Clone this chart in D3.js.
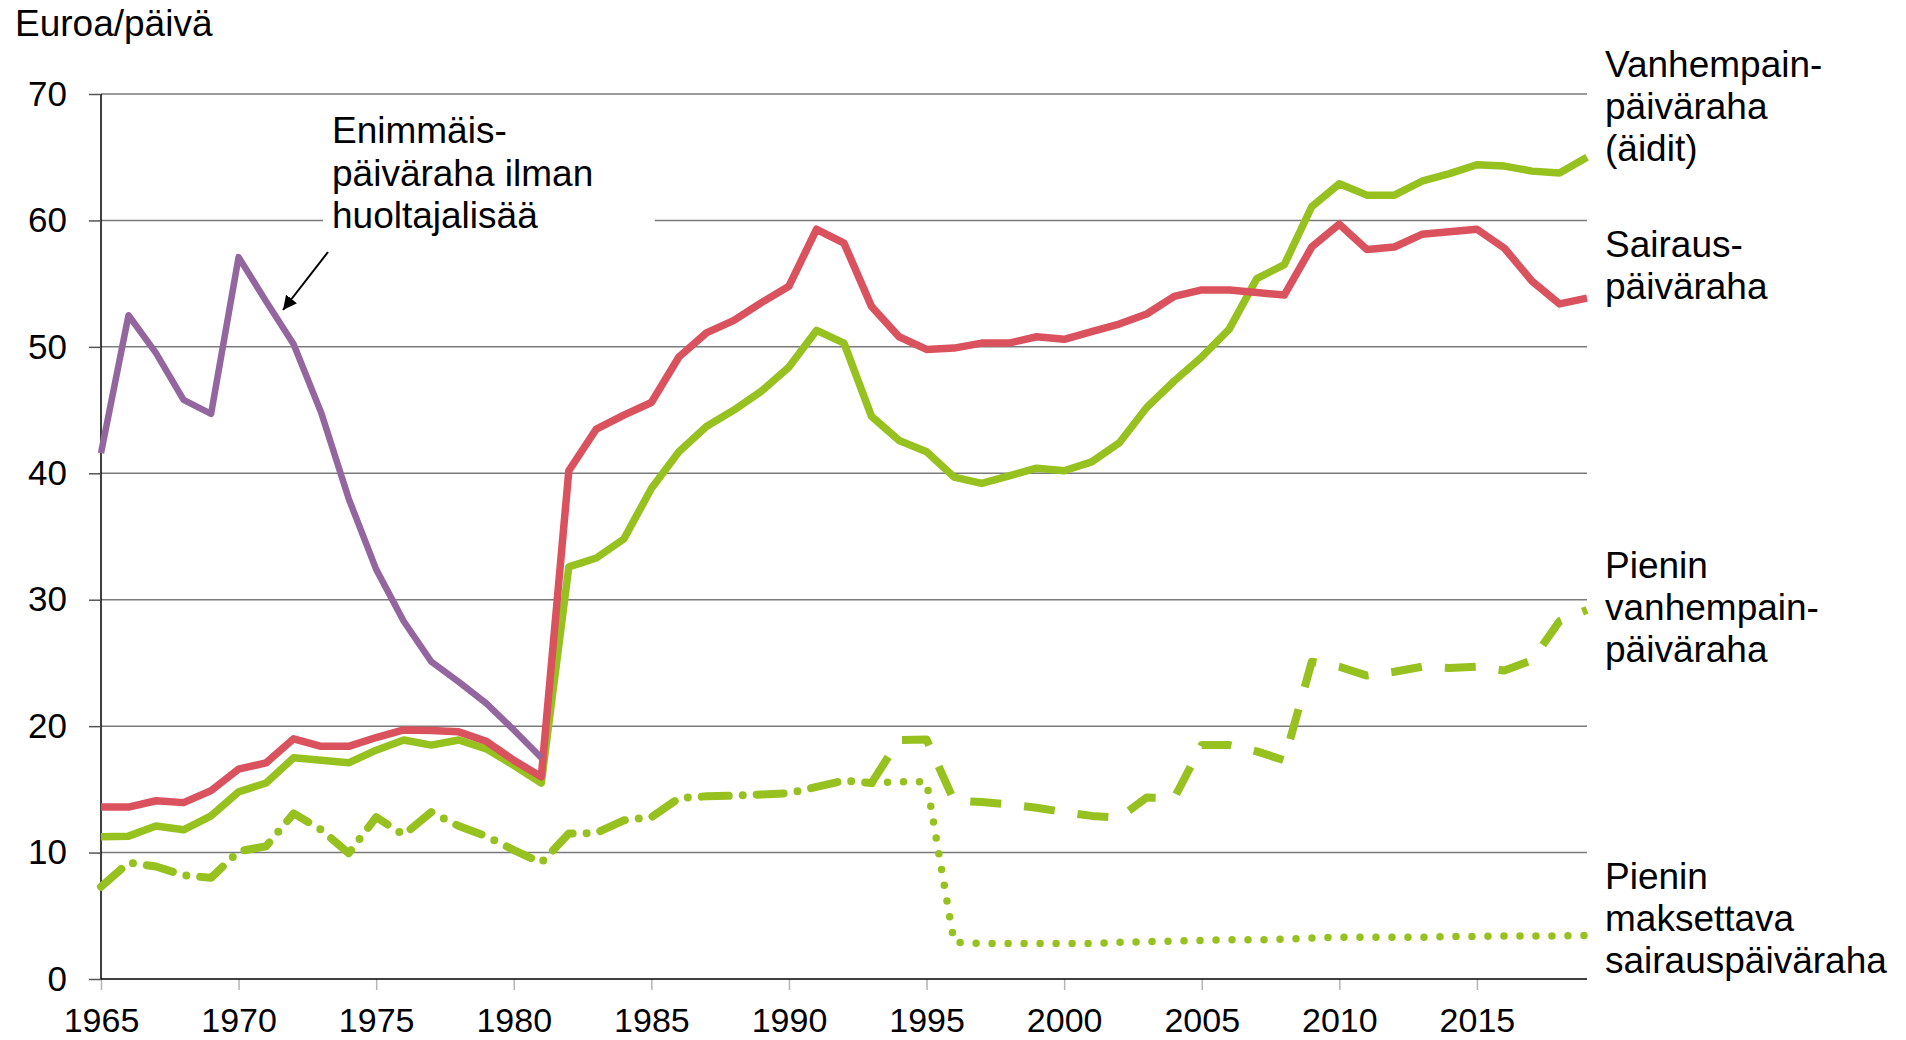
<!DOCTYPE html>
<html lang="fi">
<head>
<meta charset="UTF-8">
<title>Päivärahat 1965–2019</title>
<script src="https://d3js.org/d3.v7.min.js"></script>
<style>
    body { margin: 0; background: #fff; }
    svg text { font-family: 'Liberation Sans', Arial, sans-serif; fill: #000; }
</style>
</head>
<body>
<svg></svg>
<script>
    // vuodet
    const years = d3.range(1965, 2020);
    const yTicks = [0, 10, 20, 30, 40, 50, 60, 70];
    const xTicks = [1965, 1970, 1975, 1980, 1985, 1990, 1995, 2000, 2005, 2010, 2015];

    // Enimmäispäiväraha ilman huoltajalisää, 1965-1981
    const enimmais = [41.6, 52.5, 49.5, 45.8, 44.7, 57.1, 53.6, 50.2, 44.8, 38.0,
        32.4, 28.3, 25.1, 23.5, 21.8, 19.7, 17.5];

    // Sairauspäiväraha, 1965-2019
    const sairaus = [13.6, 13.6, 14.1, 13.95, 14.9, 16.6, 17.1, 19.0, 18.4, 18.4,
        19.1, 19.7, 19.65, 19.55, 18.8, 17.3, 16.0, 40.2, 43.5, 44.6,
        45.6, 49.2, 51.1, 52.1, 53.5, 54.8, 59.3, 58.2, 53.2, 50.8,
        49.8, 49.9, 50.3, 50.3, 50.8, 50.6, 51.2, 51.8, 52.6, 54.0,
        54.5, 54.5, 54.3, 54.1, 57.9, 59.7, 57.7, 57.9, 58.9, 59.1,
        59.3, 57.8, 55.2, 53.4, 53.85];

    // Vanhempainpäiväraha (äidit), 1965-2019
    const vanhempain = [11.25, 11.3, 12.1, 11.8, 12.9, 14.8, 15.5, 17.5, 17.3, 17.1,
        18.1, 18.9, 18.5, 18.9, 18.2, 16.9, 15.5, 32.6, 33.3, 34.8,
        38.8, 41.7, 43.7, 45.0, 46.5, 48.4, 51.3, 50.3, 44.5, 42.6,
        41.7, 39.7, 39.2, 39.8, 40.4, 40.2, 40.9, 42.4, 45.2, 47.3,
        49.2, 51.4, 55.4, 56.5, 61.1, 62.9, 62.0, 62.0, 63.1, 63.7,
        64.4, 64.3, 63.9, 63.75, 65.0];

    // Pienin päiväraha (yhteinen), 1965-1993
    const pieninYhteinen = [7.3, 9.2, 8.9, 8.2, 8.0, 10.1, 10.5, 13.1, 11.8, 9.95,
        12.8, 11.4, 13.2, 12.1, 11.3, 10.2, 9.2, 11.5, 11.55, 12.55,
        12.8, 14.3, 14.45, 14.5, 14.6, 14.7, 15.2, 15.7, 15.5];

    // Pienin vanhempainpäiväraha, 1993-2019
    const pieninVanhempain = [15.5, 18.9, 18.95, 14.1, 14.0, 13.8, 13.55, 13.2, 12.9, 12.75,
        14.35, 14.3, 18.5, 18.5, 18.0, 17.3, 25.1, 24.7, 24.0, 24.3,
        24.7, 24.6, 24.7, 24.4, 25.2, 28.3, 29.2];

    // Pienin maksettava sairauspäiväraha, 1993-2019
    const pieninSairaus = [15.5, 15.6, 15.6, 2.9, 2.8, 2.8, 2.8, 2.8, 2.8, 2.9,
        2.95, 3.0, 3.05, 3.1, 3.1, 3.15, 3.25, 3.3, 3.3, 3.3,
        3.3, 3.35, 3.37, 3.4, 3.4, 3.4, 3.45];

    const width = 1906, height = 1040;
    const svg = d3.select("svg").attr("width", width).attr("height", height);

    const x = d3.scaleLinear().domain([1965, 2019]).range([101, 1587]);
    const y = d3.scaleLinear().domain([0, 70]).range([979, 94]);

    const purple = "#9366a0", red = "#d9525e", green = "#96c11f";

    // vaakaviivat
    svg.append("g")
        .selectAll("line")
        .data(yTicks.filter(d => d > 0))
        .enter().append("line")
        .attr("x1", x(1965)).attr("x2", x(2019))
        .attr("y1", d => y(d)).attr("y2", d => y(d))
        .attr("stroke", "#7a7a7a")
        .attr("stroke-width", 1.5);

    // x-akseli
    const xAxis = svg.append("g")
        .attr("transform", `translate(0,${y(0)})`)
        .call(d3.axisBottom(x).tickValues(xTicks).tickFormat(d3.format("d")).tickSize(11).tickPadding(19));
    xAxis.select(".domain").remove();
    xAxis.selectAll(".tick line").attr("stroke", "#b5b5b5").attr("stroke-width", 1.5);
    xAxis.selectAll(".tick text").style("font-size", "34px").attr("dy", "0.68em");
    svg.append("line")
        .attr("x1", x(1965)).attr("x2", x(2019))
        .attr("y1", y(0)).attr("y2", y(0))
        .attr("stroke", "#000").attr("stroke-width", 1.5);

    // y-akseli
    const yAxis = svg.append("g")
        .attr("transform", `translate(${x(1965)},0)`)
        .call(d3.axisLeft(y).tickValues(yTicks).tickSize(12).tickPadding(22));
    yAxis.select(".domain").attr("stroke", "#000").attr("stroke-width", 1.5).attr("d", `M0,${y(70)}V${y(0)}`);
    yAxis.selectAll(".tick line").attr("stroke", "#555").attr("stroke-width", 1.5);
    yAxis.selectAll(".tick text").style("font-size", "35px");

    svg.append("text").attr("x", 15).attr("y", 36).style("font-size", "37px").text("Euroa/päivä");

    function series(values, startYear) {
        return values.map((v, i) => ({ year: years[years.indexOf(startYear) + i], value: v }));
    }
    const line = d3.line().x(d => x(d.year)).y(d => y(d.value));

    function drawLine(data, color, opts) {
        return svg.append("path")
            .datum(data)
            .attr("fill", "none")
            .attr("stroke", color)
            .attr("stroke-width", opts.width || 7.5)
            .attr("stroke-linejoin", "round")
            .attr("stroke-linecap", opts.cap || "butt")
            .attr("stroke-dasharray", opts.dash || null)
            .attr("stroke-dashoffset", opts.offset || 0)
            .attr("d", line);
    }

    // pienimmät päivärahat
    drawLine(series(pieninYhteinen, 1965), green, { dash: "27,14,0,14", cap: "round", width: 8 });
    drawLine(series(pieninVanhempain, 1993), green, { dash: "31,23", width: 8 });
    drawLine(series(pieninSairaus, 1993), green, { dash: "0,16", cap: "round", width: 7.5 });

    // päivärahat
    drawLine(series(vanhempain, 1965), green, {});
    drawLine(series(sairaus, 1965), red, {});
    drawLine(series(enimmais, 1965), purple, { width: 6.5 });

    // selite: enimmäispäiväraha
    svg.append("rect")
        .attr("x", 323).attr("y", 104).attr("width", 332).attr("height", 136)
        .attr("fill", "#fff");
    const note = svg.append("text").attr("x", 332).attr("y", 143).style("font-size", "37px");
    ["Enimmäis-", "päiväraha ilman", "huoltajalisää"].forEach((t, i) => {
        note.append("tspan").attr("x", 332).attr("dy", i === 0 ? 0 : 42.5).text(t);
    });

    svg.append("defs").append("marker")
        .attr("id", "arrow")
        .attr("viewBox", "0 0 10 10")
        .attr("refX", 10).attr("refY", 5)
        .attr("markerWidth", 7).attr("markerHeight", 7)
        .attr("markerUnits", "strokeWidth")
        .attr("orient", "auto")
        .append("path").attr("d", "M0,0L10,5L0,10Z").attr("fill", "#000");
    svg.append("line")
        .attr("x1", 328).attr("y1", 252)
        .attr("x2", 283).attr("y2", 310)
        .attr("stroke", "#000").attr("stroke-width", 2)
        .attr("marker-end", "url(#arrow)");

    // sarjojen nimet oikealla
    const labels = [
        { lines: ["Vanhempain-", "päiväraha", "(äidit)"], y: 77 },
        { lines: ["Sairaus-", "päiväraha"], y: 257 },
        { lines: ["Pienin", "vanhempain-", "päiväraha"], y: 578 },
        { lines: ["Pienin", "maksettava", "sairauspäiväraha"], y: 889 }
    ];
    labels.forEach(l => {
        const t = svg.append("text").attr("x", 1605).attr("y", l.y).style("font-size", "37px");
        l.lines.forEach((s, i) => {
            t.append("tspan").attr("x", 1605).attr("dy", i === 0 ? 0 : 42).text(s);
        });
    });
</script>
</body>
</html>
